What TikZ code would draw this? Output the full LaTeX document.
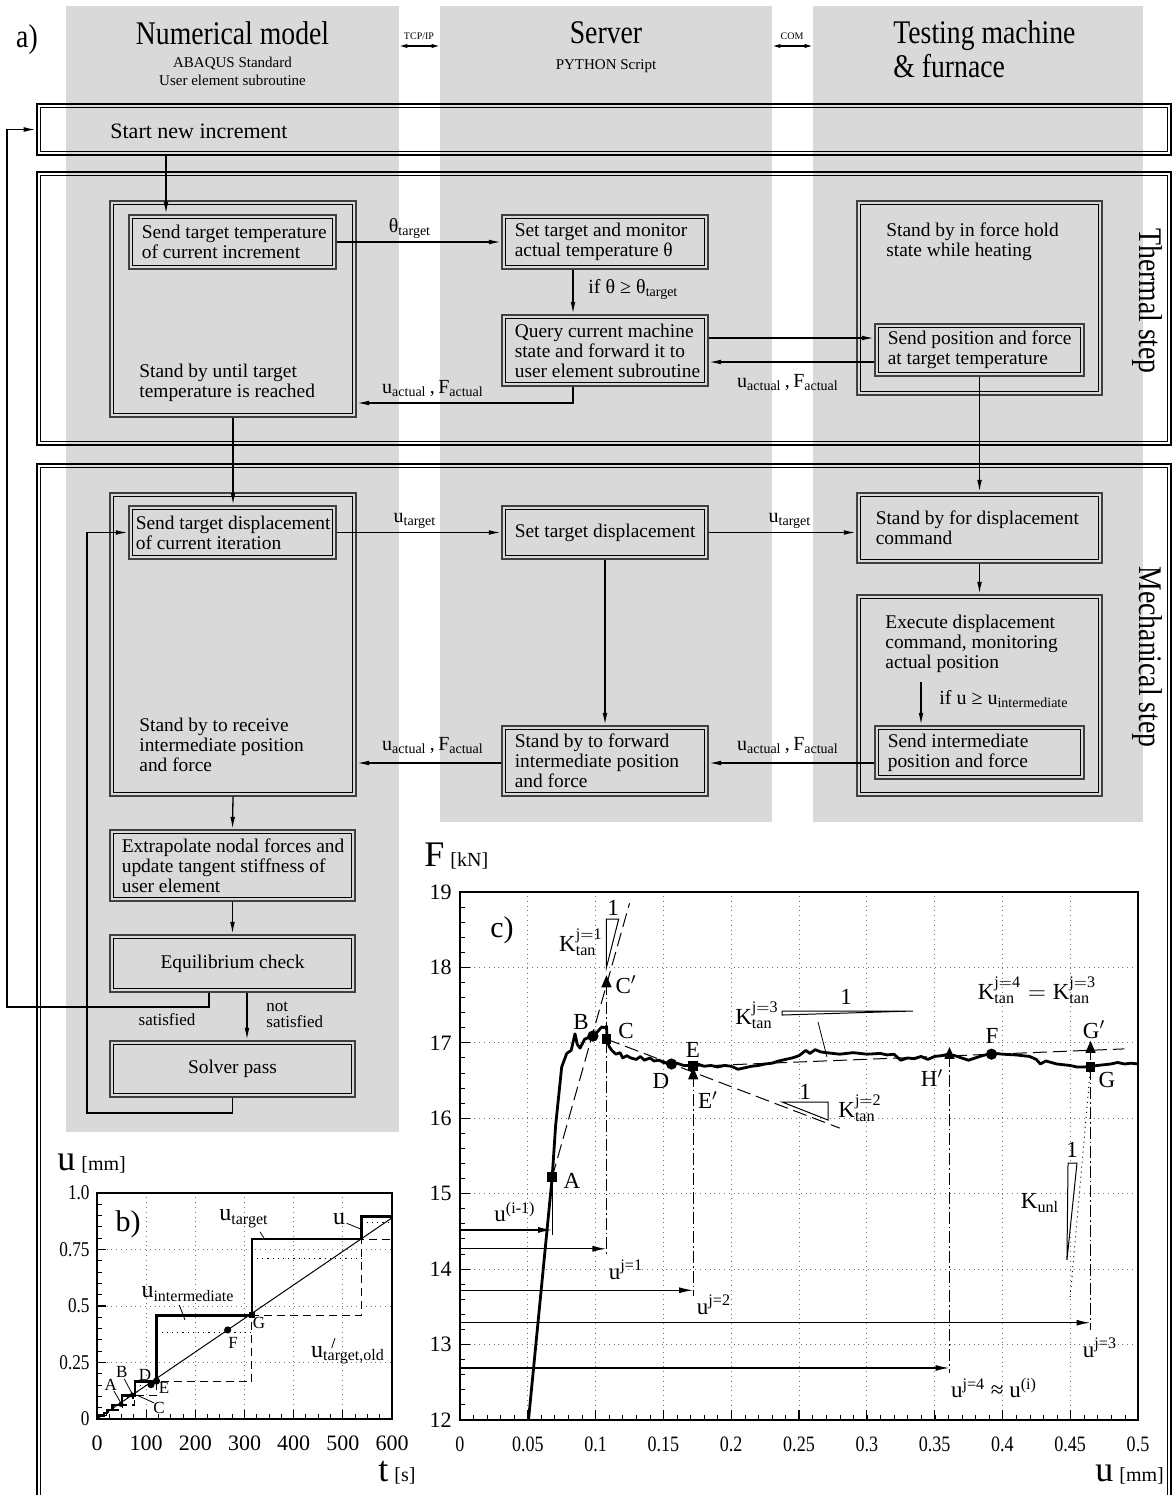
\documentclass[tikz,border=0pt]{standalone}
\usepackage{fontspec}
\setmainfont{Liberation Serif}
\newfontfamily\condA[FakeStretch=0.84]{Liberation Serif}
\newfontfamily\condB[FakeStretch=0.82]{Liberation Serif}
\usetikzlibrary{arrows.meta}
\definecolor{colgray}{HTML}{D9D9D9}
\newcommand\fb{\fontsize{9.7}{10}\selectfont}
\newcommand\fhead{\condA\fontsize{16.5}{17}\selectfont}
\newcommand\fsubh{\fontsize{7.5}{9}\selectfont}
\newcommand\flab{\fontsize{10}{12}\selectfont}
\newcommand\fpl{\fontsize{11.5}{12}\selectfont}
\newcommand\ibx[1]{\draw[line width=0.6pt] ([shift={(1.9pt,-1.9pt)}]#1.north west) rectangle ([shift={(-1.9pt,1.9pt)}]#1.south east);}
\begin{document}
\begin{tikzpicture}[x=0.5pt,y=-0.5pt,
  arr/.style={-{Latex[length=6pt,width=2.4pt]}, line width=0.65pt, shorten >=0.3pt},
  dblarr/.style={{Latex[length=4pt,width=2.2pt]}-{Latex[length=4pt,width=2.2pt]}, line width=0.6pt},
  colbox/.style={fill=colgray, inner sep=0pt, draw=none},
  fbox/.style={draw=black!75, line width=0.6pt, fill=colgray, inner sep=0pt},
  bigframe/.style={draw=black, line width=0.7pt, inner sep=0pt},
  txt/.style={font=\fb, align=left, inner sep=0pt, anchor=west},
  lab/.style={font=\flab, inner sep=0pt},
  gridl/.style={dotted, black!55, line width=0.4pt},
  ptl/.style={font=\fpl, inner sep=0pt},
  btl/.style={font=\fontsize{8.5}{9}\selectfont, inner sep=0pt},
  parr/.style={-{Latex[length=7pt,width=3pt]}, line width=0.7pt},
  ldash/.style={dash pattern=on 7pt off 3pt, line width=0.5pt},
  ddot/.style={dash pattern=on 6pt off 1.5pt on 0.8pt off 1.5pt, line width=0.5pt}
]
\useasboundingbox (0,0) rectangle (1172,1495);

% ---------- columns ----------
\node[colbox, minimum width=166.5pt, minimum height=563pt] (col1) at (232.5,569) {};
\node[colbox, minimum width=166pt, minimum height=408pt] (col2) at (606,414) {};
\node[colbox, minimum width=165pt, minimum height=408pt] (col3) at (978,414) {};

% ---------- headers ----------
\coordinate (y46) at (0,46);
\node[font=\fhead, inner sep=0pt] (alab) at (27,40) {a)};
\node[font=\fhead, inner sep=0pt] (h1) at (232.5,33) {Numerical model};
\node[font=\fsubh, align=center, inner sep=0pt] (h1s) at (232.5,71) {ABAQUS Standard\\User element subroutine};
\node[font=\fhead, inner sep=0pt] (h2) at (606,33) {Server};
\node[font=\fsubh, inner sep=0pt] (h2s) at (606,66) {PYTHON Script};
\node[font=\fhead, align=left, anchor=west, inner sep=0pt] (h3) at (893,49) {Testing machine\\\& furnace};
\node[font=\fontsize{5}{5}\selectfont, inner sep=0pt] (tcp) at (419,36) {TCP/IP};
\node[font=\fontsize{5}{5}\selectfont, inner sep=0pt] (com) at (792,36) {COM};
\draw[dblarr] (col1.east |- y46) -- (col2.west |- y46);
\draw[dblarr] (col2.east |- y46) -- (col3.west |- y46);

% ---------- frames ----------
\node[bigframe, minimum width=567pt, minimum height=25.5pt] (start) at (604,129.5) {};
\draw[line width=0.5pt] ([shift={(2pt,-2pt)}]start.north west) rectangle ([shift={(-2pt,2pt)}]start.south east);
\node[font=\fontsize{11}{12}\selectfont, anchor=west, inner sep=0pt] (startT) at (110,131) {Start new increment};

\node[bigframe, minimum width=567pt, minimum height=136.5pt] (therm) at (604,308.5) {};
\draw[line width=0.5pt] ([shift={(2pt,-2pt)}]therm.north west) rectangle ([shift={(-2pt,2pt)}]therm.south east);
\node[font=\fhead, rotate=-90, inner sep=0pt] (thermT) at (1147,301) {Thermal step};

\node[bigframe, minimum width=567pt, minimum height=523pt] (mech) at (604,987) {};
\draw[line width=0.5pt] ([shift={(2pt,-2pt)}]mech.north west) rectangle ([shift={(-2pt,2pt)}]mech.south east);
\node[font=\fhead, rotate=-90, inner sep=0pt] (mechT) at (1147,657) {Mechanical step};

% ---------- thermal boxes ----------
\node[fbox, minimum width=123pt, minimum height=108pt] (thermL) at (233,309) {};
\ibx{thermL}
\node[txt] (thermLt) at (139,383) {Stand by until target\\temperature is reached};
\node[fbox, minimum width=103.5pt, minimum height=27pt] (sendT) at (232.5,242) {};
\ibx{sendT}
\node[txt] (sendTt) at ([xshift=6.5pt]sendT.west) {Send target temperature\\of current increment};
\node[fbox, minimum width=103pt, minimum height=27pt] (setT) at (605,242) {};
\ibx{setT}
\node[txt] (setTt) at ([xshift=6.5pt]setT.west) {Set target and monitor\\actual temperature θ};
\node[fbox, minimum width=103pt, minimum height=35.5pt] (query) at (605,350.5) {};
\ibx{query}
\node[txt] (queryt) at ([xshift=6.5pt]query.west) {Query current machine\\state and forward it to\\user element subroutine};
\node[fbox, minimum width=122.5pt, minimum height=97pt] (thermR) at (979.5,298) {};
\ibx{thermR}
\node[txt] (thermRt) at (886,242) {Stand by in force hold\\state while heating};
\node[fbox, minimum width=104.5pt, minimum height=26pt] (sendP) at (979.5,350) {};
\ibx{sendP}
\node[txt] (sendPt) at ([xshift=6.5pt]sendP.west) {Send position and force\\at target temperature};

% ---------- mechanical boxes ----------
\node[fbox, minimum width=123pt, minimum height=151.5pt] (mechL) at (233,644.5) {};
\ibx{mechL}
\node[txt] (mechLt) at (139,745) {Stand by to receive\\intermediate position\\and force};
\node[fbox, minimum width=103.5pt, minimum height=26.5pt] (sendD) at (232.5,532.5) {};
\ibx{sendD}
\node[txt] (sendDt) at ([xshift=3.5pt]sendD.west) {Send target displacement\\of current iteration};
\node[fbox, minimum width=103pt, minimum height=26.5pt] (setD) at (605,532.5) {};
\ibx{setD}
\node[txt] (setDt) at ([xshift=6.5pt]setD.west) {Set target displacement};
\node[fbox, minimum width=122.5pt, minimum height=35pt] (standD) at (979.5,528) {};
\ibx{standD}
\node[txt] (standDt) at ([xshift=9.5pt]standD.west) {Stand by for displacement\\command};
\node[fbox, minimum width=122.5pt, minimum height=100.5pt] (exec) at (979.5,695.5) {};
\ibx{exec}
\node[txt] (exect) at (885,644) {Execute displacement\\command, monitoring\\actual position};
\node[fbox, minimum width=104.5pt, minimum height=26.5pt] (sendI) at (979.5,752.5) {};
\ibx{sendI}
\node[txt] (sendIt) at ([xshift=6.5pt]sendI.west) {Send intermediate\\position and force};
\node[fbox, minimum width=103pt, minimum height=35pt] (fwd) at (605,761) {};
\ibx{fwd}
\node[txt] (fwdt) at ([xshift=6.5pt]fwd.west) {Stand by to forward\\intermediate position\\and force};
\node[fbox, minimum width=122.5pt, minimum height=35.5pt] (extrap) at (232.5,865.5) {};
\ibx{extrap}
\node[txt] (extrapt) at ([xshift=6pt]extrap.west) {Extrapolate nodal forces and\\update tangent stiffness of\\user element};
\node[fbox, minimum width=122.5pt, minimum height=28.5pt] (equil) at (232.5,963.5) {};
\ibx{equil}
\node[font=\fb, inner sep=0pt] (equilt) at (equil.center) {Equilibrium check};
\node[fbox, minimum width=122.5pt, minimum height=28pt] (solver) at (232.5,1069) {};
\ibx{solver}
\node[font=\fb, inner sep=0pt] (solvert) at (solver.center) {Solver pass};

% ---------- connector coordinates ----------
\coordinate (xa) at (166,0);
\coordinate (xc) at (573,0);
\coordinate (yr1) at (0,403);
\coordinate (y338) at (0,338);
\coordinate (y362) at (0,362);
\coordinate (y763) at (0,763);
\coordinate (ex0) at (921,682);
\coordinate (xg) at (209,0);
\coordinate (xh) at (247,0);
\coordinate (xl) at (7,0);
\coordinate (ysat) at (0,1007);
\coordinate (xi) at (87,0);
\coordinate (ysol) at (0,1113);

% ---------- connectors ----------
\draw[arr] (start.south -| xa) -- (sendT.north -| xa);
\draw[arr] (sendT.east) -- (setT.west);
\draw[arr] (setT.south -| xc) -- (query.north -| xc);
\draw[arr] (query.south -| xc) -- (xc |- yr1) -- (thermL.east |- yr1);
\draw[arr] (query.east |- y338) -- (sendP.west |- y338);
\draw[arr] (sendP.west |- y362) -- (query.east |- y362);
\draw[arr] (sendP.south) -- (sendP.south |- standD.north);
\draw[arr] (thermL.south) -- (thermL.south |- sendD.north);
\draw[arr] (sendD.east) -- (setD.west);
\draw[arr] (setD.east) -- (setD.east -| standD.west);
\draw[arr] (setD.south) -- (fwd.north);
\draw[arr] (standD.south) -- (exec.north);
\draw[arr] (ex0) -- (sendI.north -| ex0);
\draw[arr] (sendI.west |- y763) -- (fwd.east |- y763);
\draw[arr] (fwd.west |- y763) -- (mechL.east |- y763);
\draw[arr] (mechL.south) -- (extrap.north);
\draw[arr] (extrap.south) -- (equil.north);
\draw[arr] (equil.south -| xh) -- (solver.north -| xh);
\draw[arr] (equil.south -| xg) -- (xg |- ysat) -- (xl |- ysat) -- (xl |- start.west) -- (start.west);
\draw[arr] (solver.south) -- (solver.south |- ysol) -- (xi |- ysol) -- (xi |- sendD.west) -- (sendD.west);

% ---------- connector labels ----------
\node[lab] (l1) at (410,229) {θ\textsubscript{target}};
\node[lab, anchor=west] (l2) at (588,289) {if θ ≥ θ\textsubscript{target}};
\node[lab] (l3) at (433,389) {u\textsubscript{actual}\,,\,F\textsubscript{actual}};
\node[lab] (l4) at (788,383) {u\textsubscript{actual}\,,\,F\textsubscript{actual}};
\node[lab] (l5) at (415,521) {u\textsubscript{target}};
\node[lab] (l6) at (790,521) {u\textsubscript{target}};
\node[lab, anchor=west] (l7) at (939,699) {if u ≥ u\textsubscript{intermediate}};
\node[lab] (l8) at (788,746) {u\textsubscript{actual}\,,\,F\textsubscript{actual}};
\node[lab] (l9) at (433,746) {u\textsubscript{actual}\,,\,F\textsubscript{actual}};
\node[font=\fontsize{8.5}{8}\selectfont, inner sep=0pt] (l10) at (167,1020) {satisfied};
\node[font=\fontsize{8.5}{8}\selectfont, align=left, anchor=west, inner sep=0pt] (l11) at (266,1015) {not\\satisfied};

% =============== plot b ===============
\begin{scope}[shift={(97,1419)}, x=0.24583pt, y=113pt]
  \foreach \t in {100,200,300,400,500} \draw[gridl] (\t,0) -- (\t,1);
  \foreach \v in {0.25,0.5,0.75} \draw[gridl] (0,\v) -- (600,\v);
  \foreach \v in {0.05,0.1,...,0.96} \draw[line width=0.5pt] (0,\v) -- ++(2.5pt,0);
  \foreach \v in {0.25,0.5,0.75} \draw[line width=0.6pt] (0,\v) -- ++(4.5pt,0);
  \foreach \t in {25,50,...,575} \draw[line width=0.5pt] (\t,0) -- ++(0,2.5pt);
  \foreach \t in {100,200,300,400,500} \draw[line width=0.6pt] (\t,0) -- ++(0,4.5pt);
  % u_target,old
  \draw[dash pattern=on 4pt off 2.5pt, line width=0.55pt] (14,0.015) -- (20,0.015) -- (20,0.027) -- (32,0.027) -- (32,0.04) -- (51,0.04) -- (51,0.062) -- (77,0.062) -- (77,0.103) -- (121,0.103) -- (121,0.165) -- (315,0.165) -- (315,0.457) -- (538,0.457) -- (538,0.796) -- (600,0.796);
  % u_intermediate
  \draw[dotted, line width=0.6pt] (51,0.093) -- (77,0.093);
  \draw[dotted, line width=0.6pt] (77,0.15) -- (121,0.15);
  \draw[dotted, line width=0.6pt] (121,0.384) -- (315,0.384);
  \draw[dotted, line width=0.6pt] (315,0.711) -- (538,0.711);
  \draw[dotted, line width=0.6pt] (538,0.87) -- (600,0.87);
  % u
  \draw[line width=0.5pt] (0,0) -- (600,0.89);
  % u_target
  \draw[line width=1.3pt] (0,0) -- (3,0) -- (3,0.015) -- (14,0.015) -- (14,0.027) -- (20,0.027) -- (20,0.04) -- (32,0.04) -- (32,0.062) -- (51,0.062) -- (51,0.103) -- (77,0.103) -- (77,0.165) -- (121,0.165) -- (121,0.457) -- (315,0.457) -- (315,0.796) -- (538,0.796) -- (538,0.895) -- (600,0.895);
  % points
  \fill (48.8,0.065) circle (1.3pt);
  \fill (72,0.106) circle (1.3pt);
  \fill (109.8,0.152) circle (1.8pt);
  \fill (121,0.168) circle (1.8pt);
  \fill (265.8,0.394) circle (1.8pt);
  \fill (315.8,0.459) +(-1.6pt,-1.6pt) rectangle +(1.6pt,1.6pt);
  \draw[line width=0.8pt] (0,0) rectangle (600,1);
  % tick labels
  \foreach \v/\s [count=\i] in {0/0,0.25/0.25,0.5/0.5,0.75/0.75,1/1.0}
    \node[font=\condB\fontsize{10.5}{11}\selectfont, anchor=east, inner sep=0pt] (by\i) at ([xshift=-3.5pt]0,\v) {\s};
  \foreach \t [count=\i] in {0,100,200,300,400,500,600}
    \node[font=\fontsize{11}{11}\selectfont, anchor=north, inner sep=0pt] (bx\i) at ([yshift=-8pt]\t,0) {\t};
\end{scope}
\node[font=\fontsize{18}{18}\selectfont, anchor=base west, inner sep=0pt] (bu) at (57,1170) {u\,{\fontsize{10}{10}\selectfont[mm]}};
\node[font=\fontsize{18}{18}\selectfont, anchor=base west, inner sep=0pt] (bt) at (378,1481) {t\,{\fontsize{10}{10}\selectfont[s]}};
\node[font=\fontsize{15}{15}\selectfont, inner sep=0pt] (blab) at (128,1224) {b)};
\node[font=\fontsize{12}{12}\selectfont, inner sep=0pt] (bl1) at (244,1219) {u\textsubscript{target}};
\node[font=\fontsize{12}{12}\selectfont, inner sep=0pt] (bl2) at (339,1219) {u};
\node[font=\fontsize{12}{12}\selectfont, inner sep=0pt] (bl3) at (188,1294) {u\textsubscript{intermediate}};
\node[font=\fontsize{12}{12}\selectfont, inner sep=0pt] (bl4) at (348,1355) {u\textsubscript{target,old}};
\draw[line width=0.4pt] (260,1231.7) -- (264.5,1239);
\draw[line width=0.4pt] (346.7,1223.3) -- (360.7,1229);
\draw[line width=0.4pt] (179.3,1305) -- (185,1320);
\draw[line width=0.4pt] (331.7,1348) -- (335,1338);
\draw[line width=0.4pt] (114,1391) -- (121,1403);
\draw[line width=0.4pt] (124.3,1379) -- (132.3,1394);
\draw[line width=0.4pt] (154.3,1403) -- (136.7,1395);
\node[btl] (bA) at (110.7,1385) {A};
\node[btl] (bB) at (121.7,1372) {B};
\node[btl] (bC) at (159,1408) {C};
\node[btl] (bD) at (145,1375) {D};
\node[btl] (bE) at (164,1388) {E};
\node[btl] (bF) at (233,1343) {F};
\node[btl] (bG) at (259,1323) {G};

% =============== plot c ===============
\begin{scope}[shift={(460,2325.16)}, x=678pt, y=37.715pt]
  \foreach \u in {0.05,0.1,...,0.46} \draw[gridl] (\u,12) -- (\u,19);
  \foreach \f in {13,...,18} \draw[gridl] (0,\f) -- (0.5,\f);
  \foreach \f in {12.2,12.4,...,18.9} \draw[line width=0.5pt] (0,\f) -- ++(2.5pt,0);
  \foreach \f in {13,...,18} \draw[line width=0.6pt] (0,\f) -- ++(5pt,0);
  \foreach \u in {0.01,0.02,...,0.495} \draw[line width=0.5pt] (\u,12) -- ++(0,2.5pt);
  \foreach \u in {0.05,0.1,...,0.46} \draw[line width=0.6pt] (\u,12) -- ++(0,5pt);
  % horizontal arrows
  \draw[parr] (0,14.52) -- (0.068,14.52);
  \draw[parr] (0,14.27) -- (0.108,14.27);
  \draw[parr] (0,13.72) -- (0.172,13.72);
  \draw[parr] (0,13.29) -- (0.465,13.29);
  \draw[parr] (0,12.69) -- (0.361,12.69);
  % verticals
  \draw[line width=0.4pt] (0.068,15.22) -- (0.068,14.45);
  \draw[ddot] (0.108,17.8) -- (0.108,14.2);
  \draw[ddot] (0.172,16.58) -- (0.172,13.65);
  \draw[ddot] (0.361,16.84) -- (0.361,12.62);
  \draw[ddot] (0.465,16.93) -- (0.465,13.2);
  % dashed tangents
  \draw[ldash] (0.068,15.22) -- (0.125,18.85);
  \draw[ldash] (0.108,17.05) -- (0.28,15.87);
  \draw[ldash] (0.172,16.69) -- (0.49,16.92);
  \draw[dotted, line width=0.5pt] (0.465,16.68) -- (0.45,13.63);
  % slope triangles
  \draw[fill=white, line width=0.5pt] (0.108,18.0) -- (0.108,18.64) -- (0.117,18.64) -- cycle;
  \draw[fill=white, line width=0.5pt] (0.2375,16.216) -- (0.2714,16.216) -- (0.2714,15.977) -- cycle;
  \draw[fill=white, line width=0.5pt] (0.2375,17.422) -- (0.334,17.422) -- (0.2375,17.369) -- cycle;
  \draw[fill=white, line width=0.5pt] (0.4484,15.407) -- (0.455,15.407) -- (0.4476,14.121) -- cycle;
  % main curve
  \draw[line width=1.4pt, line join=round] plot coordinates {(0.0505,12) (0.068,15.22) (0.0705,15.9) (0.075,16.68) (0.0787,16.86) (0.082,16.9) (0.0848,17.12) (0.0865,16.98) (0.0885,16.93) (0.092,17.05) (0.0978,17.09) (0.1,17.12) (0.1045,17.21) (0.107,17.2) (0.108,17.22) (0.1085,17.05) (0.11,16.95) (0.112,16.9) (0.115,16.85) (0.118,16.87) (0.12,16.8) (0.123,16.83) (0.126,16.8) (0.13,16.78) (0.133,16.82) (0.136,16.77) (0.14,16.8) (0.143,16.76) (0.147,16.77) (0.15,16.74) (0.155,16.72) (0.16,16.73) (0.165,16.7) (0.17,16.7) (0.175,16.72) (0.18,16.69) (0.185,16.7) (0.19,16.68) (0.195,16.7) (0.2,16.69) (0.205,16.65) (0.21,16.67) (0.215,16.69) (0.22,16.7) (0.225,16.72) (0.23,16.73) (0.235,16.76) (0.24,16.78) (0.245,16.8) (0.25,16.83) (0.255,16.9) (0.258,16.86) (0.262,16.91) (0.266,16.88) (0.27,16.87) (0.28,16.85) (0.29,16.87) (0.3,16.85) (0.31,16.86) (0.315,16.84) (0.32,16.85) (0.325,16.77) (0.33,16.8) (0.335,16.79) (0.34,16.82) (0.345,16.78) (0.35,16.82) (0.355,16.83) (0.36,16.85) (0.365,16.83) (0.37,16.8) (0.375,16.77) (0.38,16.8) (0.385,16.83) (0.39,16.85) (0.395,16.86) (0.4,16.85) (0.41,16.84) (0.42,16.82) (0.425,16.78) (0.428,16.72) (0.432,16.76) (0.44,16.72) (0.45,16.7) (0.455,16.68) (0.46,16.68) (0.465,16.69) (0.47,16.7) (0.48,16.72) (0.485,16.74) (0.49,16.72) (0.495,16.73) (0.5,16.72)};
  % markers
  \fill (0.068,15.22) +(-2.4pt,-2.4pt) rectangle +(2.4pt,2.4pt);
  \fill (0.108,17.05) +(-2.4pt,-2.4pt) rectangle +(2.4pt,2.4pt);
  \fill (0.172,16.69) +(-2.4pt,-2.4pt) rectangle +(2.4pt,2.4pt);
  \fill (0.465,16.68) +(-2.4pt,-2.4pt) rectangle +(2.4pt,2.4pt);
  \fill (0.098,17.09) circle (2.8pt);
  \fill (0.156,16.72) circle (2.8pt);
  \fill (0.392,16.85) circle (2.8pt);
  \foreach \p in {(0.108,17.8),(0.172,16.58),(0.361,16.85),(0.465,16.93)}
    \fill \p ++(-2.6pt,-2.4pt) -- ++(5.2pt,0) -- ++(-2.6pt,6pt) -- cycle;
  \draw[line width=0.9pt] (0,12) rectangle (0.5,19);
  % tick labels
  \foreach \f [count=\i] in {12,...,19}
    \node[font=\fontsize{11}{11}\selectfont, anchor=east, inner sep=0pt] (cy\i) at ([xshift=-4pt]0,\f) {\f};
  \foreach \u [count=\i] in {0,0.05,0.1,0.15,0.2,0.25,0.3,0.35,0.4,0.45,0.5}
    \node[font=\condB\fontsize{11}{11}\selectfont, anchor=north, inner sep=0pt] (cx\i) at ([yshift=-8pt]\u,12) {\u};
\end{scope}
\node[font=\fontsize{18}{18}\selectfont, anchor=base west, inner sep=0pt] (cF) at (424,866) {F\,{\fontsize{10}{10}\selectfont[kN]}};
\node[font=\fontsize{18}{18}\selectfont, anchor=base west, inner sep=0pt] (cu) at (1095,1481) {u\,{\fontsize{10}{10}\selectfont[mm]}};
\node[font=\fontsize{15}{15}\selectfont, inner sep=0pt] (clab) at (502,930) {c)};
\node[ptl] (cA) at (572,1181) {A};
\node[ptl] (cB) at (581,1022) {B};
\node[ptl] (cC) at (626,1031) {C};
\node[ptl] (cC2) at (626,985) {C$'$};
\node[ptl] (cD) at (661,1081) {D};
\node[ptl] (cE) at (693,1050) {E};
\node[ptl] (cE2) at (708,1100) {E$'$};
\node[ptl] (cFl) at (992,1036) {F};
\node[ptl] (cG) at (1107,1080) {G};
\node[ptl] (cG2) at (1094,1030) {G$'$};
\node[ptl] (cH2) at (932,1078) {H$'$};
\node[ptl] (k1one) at (613,908) {1};
\node[ptl, anchor=east] (k1) at (603,942) {$\mathrm{K}^{\mathrm{j=1}}_{\mathrm{tan}}$};
\node[ptl] (k2one) at (805,1092) {1};
\node[ptl, anchor=west] (k2) at (838,1108) {$\mathrm{K}^{\mathrm{j=2}}_{\mathrm{tan}}$};
\node[ptl] (k3one) at (846,997) {1};
\node[ptl] (k3) at (757,1015) {$\mathrm{K}^{\mathrm{j=3}}_{\mathrm{tan}}$};
\draw[line width=0.4pt] (818,1022) -- (827,1057);
\node[ptl] (k4) at (1037,990) {$\mathrm{K}^{\mathrm{j=4}}_{\mathrm{tan}}=\mathrm{K}^{\mathrm{j=3}}_{\mathrm{tan}}$};
\node[ptl] (kuone) at (1072,1150) {1};
\node[ptl] (ku) at (1040,1203) {K\textsubscript{unl}};
\node[ptl] (ui) at (515,1212) {u\textsuperscript{(i-1)}};
\node[ptl] (uj1) at (626,1270) {u\textsuperscript{j=1}};
\node[ptl] (uj2) at (714,1305) {u\textsuperscript{j=2}};
\node[ptl] (uj3) at (1100,1348) {u\textsuperscript{j=3}};
\node[ptl] (uj4) at (994,1388) {u\textsuperscript{j=4} ≈ u\textsuperscript{(i)}};
\end{tikzpicture}
\end{document}
